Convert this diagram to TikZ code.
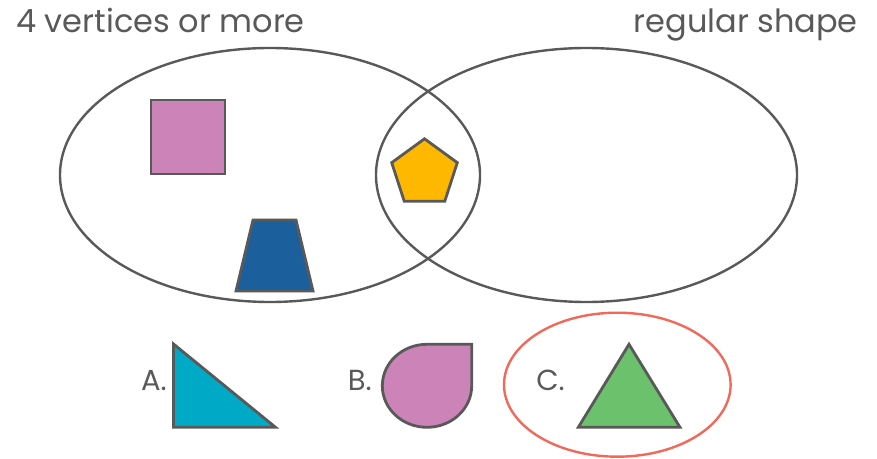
\documentclass[tikz,border=0pt]{standalone}
\usepackage{fontspec}
\setmainfont{Poppins}
\usepackage{tikz}
\usetikzlibrary{positioning}
\definecolor{linegray}{HTML}{595959}
\definecolor{pinkfill}{HTML}{CC84B8}
\definecolor{bluefill}{HTML}{1B5F9C}
\definecolor{yellowfill}{HTML}{FFB800}
\definecolor{cyanfill}{HTML}{00AAC7}
\definecolor{greenfill}{HTML}{6CC26C}
\definecolor{redline}{HTML}{F0695A}
\tikzset{venn/.style={draw=linegray, line width=2.4pt}}
\tikzset{shapeline/.style={draw=linegray, line width=2.8pt, line join=miter}}
\tikzset{title/.style={text=linegray, font=\fontsize{32}{38}\selectfont, inner sep=0pt}}
\tikzset{choice/.style={text=linegray, font=\fontsize{29}{35}\selectfont, inner sep=0pt}}

\begin{document}
\begin{tikzpicture}[x=1pt, y=1pt]
  \useasboundingbox (0,0) rectangle (877,458);
  \draw[venn] (270,283) ellipse [x radius=210, y radius=127];
  \draw[venn] (586.5,283) ellipse [x radius=210.5, y radius=127];
  \node[title, anchor=base west] (vertices) at (16,425) {4 vertices or more};
  \node[title, anchor=base east] (regular) at (858,425) {regular shape};
  % shapes inside the diagram
  \draw[shapeline, fill=pinkfill] (151,284) rectangle (225,358);
  \draw[shapeline, fill=bluefill] (236,167) -- (313,167) -- (296,238) -- (253,238) -- cycle;
  \draw[shapeline, fill=yellowfill, shift={(424.5,284.7)}]
    (90:34.5) -- (162:34.5) -- (234:34.5) -- (306:34.5) -- (18:34.5) -- cycle;
  % answer choices
  \node[choice, anchor=base east] (optA) at (167,68) {A.};
  \draw[shapeline, fill=cyanfill] (173.5,114) -- (173.5,30.7) -- (275.5,30.7) -- cycle;
  \node[choice, anchor=base east] (optB) at (372,68) {B.};
  \draw[shapeline, fill=pinkfill] (427,113.7) -- (471.7,113.7) -- (471.7,72.2)
    arc[start angle=0, end angle=-270, x radius=44.7, y radius=41.5] -- cycle;
  \node[choice, anchor=base east] (optC) at (565,68) {C.};
  \draw[shapeline, fill=greenfill] (629,113.7) -- (578.3,30.7) -- (680,30.7) -- cycle;
  \draw[draw=redline, line width=2.4pt] (617.3,73.3) ellipse [x radius=113.3, y radius=72];
\end{tikzpicture}
\end{document}
